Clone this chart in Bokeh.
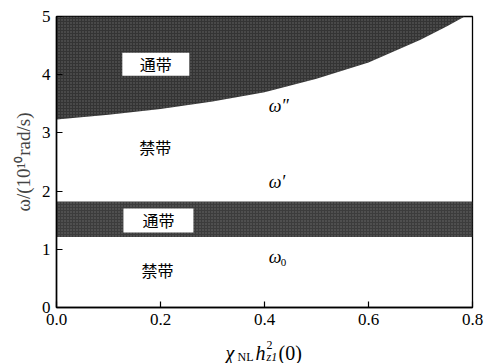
from bokeh.plotting import figure
from bokeh.models import Label, FixedTicker, Range1d
from bokeh.layouts import column
from bokeh.embed import file_html
from bokeh.resources import INLINE

# Upper pass band lower boundary omega''
curve_x = [0.0, 0.1, 0.2, 0.3, 0.4, 0.5, 0.6, 0.7, 0.75, 0.785]
curve_y = [3.23, 3.31, 3.41, 3.54, 3.70, 3.93, 4.21, 4.60, 4.83, 5.0]
top_y = 5.0
# Lower pass band (omega0 .. omega')
band_x = [0.0, 0.8]
band_low = 1.21
band_high = 1.82

x_ticks = [0.0, 0.2, 0.4, 0.6, 0.8]
x_tick_labels = ["0.0", "0.2", "0.4", "0.6", "0.8"]
y_ticks = [0, 1, 2, 3, 4, 5]

SERIF = "Liberation Serif"
CJK = "Noto Sans CJK SC"

p = figure(frame_width=416, frame_height=291, output_backend="svg", toolbar_location=None,
           x_range=Range1d(0, 0.8), y_range=Range1d(0, 5),
           min_border_left=56, min_border_right=17, min_border_top=16, min_border_bottom=24)
p.xgrid.visible = False
p.ygrid.visible = False
p.outline_line_color = "black"
p.outline_line_width = 1.3
p.background_fill_color = "white"
p.border_fill_color = "white"

fill_kw = dict(fill_color="#343434", hatch_pattern="dot", hatch_color="#9a9a9a",
               hatch_scale=3, hatch_weight=1, hatch_alpha=0.5)
p.varea(x=curve_x, y1=curve_y, y2=[top_y] * len(curve_x), **fill_kw)
fill_kw2 = dict(fill_kw, fill_color="#3c3c3c")
p.varea(x=band_x, y1=[band_low] * 2, y2=[band_high] * 2, **fill_kw2)

xax = p.xaxis[0]
yax = p.yaxis[0]
xax.ticker = FixedTicker(ticks=x_ticks)
xax.major_label_overrides = {t: s for t, s in zip(x_ticks, x_tick_labels)}
yax.ticker = FixedTicker(ticks=y_ticks)

for ax in (xax, yax):
    ax.major_tick_in = 6
    ax.major_tick_out = 0
    ax.minor_tick_in = 0
    ax.minor_tick_out = 0
    ax.axis_line_width = 1.5
    ax.major_tick_line_width = 1.2
    ax.major_label_text_font = SERIF
    ax.major_label_text_font_size = "17px"
    ax.major_label_text_color = "black"
    ax.major_label_standoff = 6

yax.axis_label = "ω/(10¹⁰rad/s)"
yax.axis_label_text_font = SERIF
yax.axis_label_text_font_size = "19px"
yax.axis_label_text_font_style = "normal"
yax.axis_label_standoff = 5

# white boxes for pass-band labels
p.rect(x=[0.191, 0.196], y=[4.18, 1.495], width=[67, 70], height=[23, 24],
       width_units="screen", height_units="screen", fill_color="white", line_color=None)

def lab(fig, x, y, text, font, size, style="normal", align="center", baseline="middle", xo=0, yo=0):
    fig.add_layout(Label(x=x, y=y, text=text, text_font=font, text_font_size=size,
                         text_font_style=style, text_align=align, text_baseline=baseline,
                         x_offset=xo, y_offset=yo, text_color="black"))

lab(p, 0.191, 4.18, "通带", CJK, "16px")
lab(p, 0.19, 2.75, "禁带", CJK, "16px")
lab(p, 0.196, 1.495, "通带", CJK, "16px")
lab(p, 0.194, 0.636, "禁带", CJK, "16px")

lab(p, 0.408, 3.47, "ω″", SERIF, "18px", style="italic", align="left")
lab(p, 0.408, 2.15, "ω′", SERIF, "18px", style="italic", align="left")
lab(p, 0.408, 0.86, "ω", SERIF, "18px", style="italic", align="left")
lab(p, 0.408, 0.86, "0", SERIF, "11px", align="left", xo=12, yo=-5)

# x-axis label strip: χ_NL h^2_z1(0)
q = figure(frame_width=416, frame_height=32, output_backend="svg", toolbar_location=None,
           x_range=Range1d(0, 0.8), y_range=Range1d(0, 32),
           x_axis_location=None, y_axis_location=None,
           min_border_left=56, min_border_right=17, min_border_top=0, min_border_bottom=0)
q.xgrid.visible = False
q.ygrid.visible = False
q.outline_line_color = None
q.background_fill_color = "white"
q.border_fill_color = "white"

bx = 0.325
by = 11
lab(q, bx, by, "χ", SERIF, "20px", style="italic", align="left", baseline="alphabetic")
lab(q, bx, by, "NL", SERIF, "12px", align="left", baseline="alphabetic", xo=12, yo=-4)
lab(q, bx, by, "h", SERIF, "20px", style="italic", align="left", baseline="alphabetic", xo=30)
lab(q, bx, by, "2", SERIF, "12px", align="left", baseline="alphabetic", xo=41, yo=8)
lab(q, bx, by, "z1", SERIF, "12px", style="italic", align="left", baseline="alphabetic", xo=41, yo=-4)
lab(q, bx, by, "(0)", SERIF, "20px", align="left", baseline="alphabetic", xo=53)

layout = column(p, q, spacing=0)
open("out.html", "w").write(file_html(layout, INLINE))
